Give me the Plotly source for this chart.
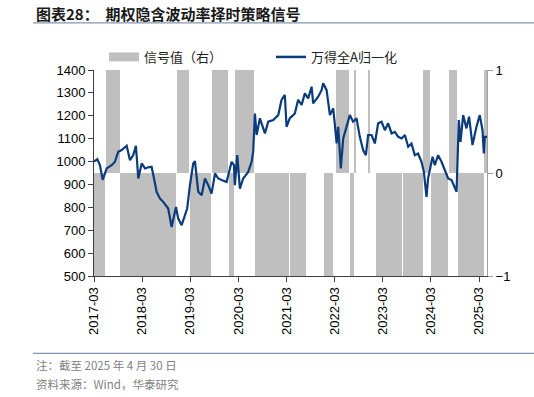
import pandas as pd
import plotly.graph_objects as go

# ---------------- data ----------------
line_dates = [
    "2017-03-01", "2017-03-26", "2017-04-15", "2017-05-06", "2017-06-05", "2017-07-13",
    "2017-08-07", "2017-09-01", "2017-09-27", "2017-11-04", "2017-11-29", "2017-12-24",
    "2018-01-13", "2018-01-31", "2018-02-26", "2018-03-23", "2018-04-17", "2018-05-12",
    "2018-05-25", "2018-06-19", "2018-07-14", "2018-08-08", "2018-09-15", "2018-10-11",
    "2018-11-13", "2018-11-30", "2018-12-26", "2019-01-20", "2019-02-06", "2019-02-27",
    "2019-03-24", "2019-04-06", "2019-05-01", "2019-05-27", "2019-06-21", "2019-07-16",
    "2019-08-10", "2019-09-05", "2019-09-30", "2019-10-25", "2019-12-02", "2020-01-09",
    "2020-01-27", "2020-02-03", "2020-02-21", "2020-03-12", "2020-04-06", "2020-05-14",
    "2020-06-09", "2020-06-21", "2020-07-04", "2020-07-17", "2020-08-11", "2020-09-18",
    "2020-10-13", "2020-11-20", "2020-12-28", "2021-01-22", "2021-02-16", "2021-03-01",
    "2021-03-26", "2021-04-20", "2021-05-03", "2021-05-28", "2021-06-23", "2021-07-18",
    "2021-08-12", "2021-09-07", "2021-09-19", "2021-10-27", "2021-11-22", "2021-12-04",
    "2021-12-30", "2022-01-24", "2022-02-18", "2022-03-03", "2022-03-16", "2022-03-28",
    "2022-04-17", "2022-05-05", "2022-05-30", "2022-06-24", "2022-07-19", "2022-08-14",
    "2022-09-08", "2022-10-03", "2022-10-24", "2022-11-10", "2022-12-06", "2022-12-31",
    "2023-01-25", "2023-02-20", "2023-03-17", "2023-04-11", "2023-05-07", "2023-06-01",
    "2023-06-26", "2023-07-22", "2023-08-16", "2023-09-10", "2023-10-05", "2023-10-30",
    "2023-11-24", "2023-12-20", "2024-01-07", "2024-01-27", "2024-02-08", "2024-02-26",
    "2024-03-13", "2024-03-30", "2024-04-24", "2024-05-20", "2024-06-14", "2024-07-09",
    "2024-08-04", "2024-08-29", "2024-09-11", "2024-09-28", "2024-10-11", "2024-10-31",
    "2024-11-25", "2024-12-15", "2025-01-10", "2025-02-09", "2025-03-06", "2025-03-27",
    "2025-04-06", "2025-04-13", "2025-04-30",
]
line_values = [
    1000, 1010, 985, 920, 970, 984,
    999, 1043, 1050, 1069, 1006, 1028,
    1069, 926, 992, 970, 975, 977,
    941, 868, 839, 824, 795, 714,
    802, 751, 722, 766, 795, 897,
    992, 1002, 868, 853, 926, 897,
    860, 948, 926, 919, 911, 999,
    984, 897, 1028, 882, 926, 955,
    999, 1043, 1210, 1116, 1189, 1123,
    1174, 1181, 1203, 1269, 1291, 1152,
    1190, 1203, 1210, 1270, 1247, 1298,
    1276, 1327, 1254, 1283, 1312, 1342,
    1312, 1203, 1232, 1159, 1079, 1152,
    970, 1101, 1152, 1203, 1174, 1189,
    1108, 1050, 1028, 1116, 1116, 1079,
    1167, 1174, 1137, 1167, 1123, 1130,
    1108, 1101, 1116, 1065, 1079, 1028,
    1035, 999, 955, 846, 926, 984,
    1021, 984, 1028, 999, 962, 926,
    919, 882, 868, 1181, 1086, 1203,
    1145, 1196, 1072, 1152, 1203, 1137,
    1035, 1108, 1108,
]

signal_start = [
    "2017-03-01", "2017-05-31", "2017-09-14", "2018-11-18", "2019-02-27", "2019-08-11",
    "2019-12-18", "2020-02-03", "2020-07-04", "2021-03-26", "2021-12-09", "2022-03-08",
    "2022-06-24", "2022-07-25", "2022-11-06", "2023-01-10", "2023-07-29", "2024-01-01",
    "2024-02-27", "2024-07-14", "2024-09-23", "2025-04-04",
]
signal_end = [
    "2017-05-25", "2017-09-14", "2018-11-13", "2019-02-19", "2019-08-05", "2019-12-10",
    "2020-01-29", "2020-06-29", "2021-03-19", "2021-07-26", "2022-02-18", "2022-06-17",
    "2022-07-25", "2022-08-11", "2022-11-25", "2023-07-22", "2023-12-30", "2024-02-21",
    "2024-07-09", "2024-09-18", "2025-04-04", "2025-04-30",
]
signal_value = [
    -1, 1, -1, 1, -1, 1,
    -1, 1, -1, -1, -1, 1,
    -1, 1, 1, -1, -1, 1,
    -1, 1, -1, 1,
]

tick_dates = ["2017-03-01", "2018-03-01", "2019-03-01", "2020-03-01", "2021-03-01",
              "2022-03-01", "2023-03-01", "2024-03-01", "2025-03-01"]
tick_labels = ["2017-03", "2018-03", "2019-03", "2020-03", "2021-03",
               "2022-03", "2023-03", "2024-03", "2025-03"]

left_ticks = [500, 600, 700, 800, 900, 1000, 1100, 1200, 1300, 1400]
right_ticks = [-1, 0, 1]

# ---------------- figure ----------------
BAR_COLOR = "#BFBFBF"
LINE_COLOR = "#0A3C7D"
FONT = "Liberation Sans, Arial, Noto Sans CJK SC, sans-serif"
CJK = "Noto Sans CJK SC, Liberation Sans, sans-serif"

s = pd.to_datetime(signal_start)
e = pd.to_datetime(signal_end)
widths_ms = [(b - a).total_seconds() * 1000 for a, b in zip(s, e)]

fig = go.Figure()
fig.add_trace(go.Bar(
    x=s, y=signal_value, width=widths_ms, offset=0, base=0,
    marker=dict(color=BAR_COLOR, line=dict(width=0)),
    yaxis="y", showlegend=False, hoverinfo="skip",
))
fig.add_trace(go.Scatter(
    x=pd.to_datetime(line_dates), y=line_values, mode="lines",
    line=dict(color=LINE_COLOR, width=2.2), yaxis="y2", showlegend=False,
))
# legend entries
fig.add_trace(go.Scatter(x=[None], y=[None], mode="lines", name="信号值（右）",
                         line=dict(color=BAR_COLOR, width=9), yaxis="y2"))
fig.add_trace(go.Scatter(x=[None], y=[None], mode="lines", name="万得全A归一化",
                         line=dict(color=LINE_COLOR, width=2.5), yaxis="y2"))

W_PLOT = 393.0
H_PLOT = 205.7


def px_x(p):  # page px -> paper
    return (p - 94) / W_PLOT


def px_y(p):
    return 1 - (p - 70) / H_PLOT


fig.update_layout(
    width=534, height=397,
    margin=dict(l=94, r=47, t=70, b=121.3),
    paper_bgcolor="white", plot_bgcolor="white",
    font=dict(family=FONT, size=13, color="#000000"),
    bargap=0,
    xaxis=dict(
        type="date", range=["2017-03-01", "2025-04-30"],
        tickvals=tick_dates, ticktext=tick_labels, tickangle=-90,
        showline=True, linecolor="#404040", linewidth=1,
        ticks="outside", ticklen=5, tickcolor="#404040",
        showgrid=False, zeroline=False,
        tickfont=dict(size=13, family=FONT),
    ),
    yaxis=dict(
        side="right", range=[-1, 1], tickvals=right_ticks,
        showline=True, linecolor="#A0A0A0", linewidth=1,
        ticks="outside", ticklen=5, tickcolor="#A0A0A0",
        showgrid=False, zeroline=False,
        tickfont=dict(size=13, family=FONT),
    ),
    yaxis2=dict(
        overlaying="y", side="left", range=[500, 1400], tickvals=left_ticks,
        showline=True, linecolor="#404040", linewidth=1,
        ticks="outside", ticklen=5, tickcolor="#404040",
        showgrid=False, zeroline=False,
        tickfont=dict(size=13, family=FONT),
    ),
    legend=dict(
        orientation="h", x=px_x(104), xanchor="left", y=px_y(57), yanchor="middle",
        font=dict(size=13, family=CJK, color="#222222"),
        entrywidth=122, entrywidthmode="pixels",
        bgcolor="rgba(0,0,0,0)", borderwidth=0,
        traceorder="normal",
    ),
    showlegend=True,
    hovermode=False,
)

# title and footnotes
fig.add_annotation(
    xref="paper", yref="paper", x=px_x(34), y=px_y(14), xanchor="left", yanchor="middle",
    text="<b>图表28：  期权隐含波动率择时策略信号</b>", showarrow=False,
    font=dict(size=15, family=CJK, color="#1A1A1A"),
)
fig.add_shape(type="line", xref="paper", yref="paper",
              x0=px_x(33), x1=px_x(534), y0=px_y(23), y1=px_y(23),
              line=dict(color="#8497B0", width=1.2))
fig.add_shape(type="line", xref="paper", yref="paper",
              x0=px_x(33), x1=px_x(534), y0=px_y(353), y1=px_y(353),
              line=dict(color="#8497B0", width=1.2))
fig.add_annotation(
    xref="paper", yref="paper", x=px_x(34), y=px_y(365), xanchor="left", yanchor="middle",
    text="注：截至 2025 年 4 月 30 日", showarrow=False,
    font=dict(size=11.5, family=CJK, color="#7F7F7F"),
)
fig.add_annotation(
    xref="paper", yref="paper", x=px_x(34), y=px_y(384), xanchor="left", yanchor="middle",
    text="资料来源：Wind，华泰研究", showarrow=False,
    font=dict(size=11.5, family=CJK, color="#7F7F7F"),
)

fig.write_html(
    "out.html",
    config={"displayModeBar": False},
    post_script="document.body.style.margin='0px';document.body.style.overflow='hidden';",
)
